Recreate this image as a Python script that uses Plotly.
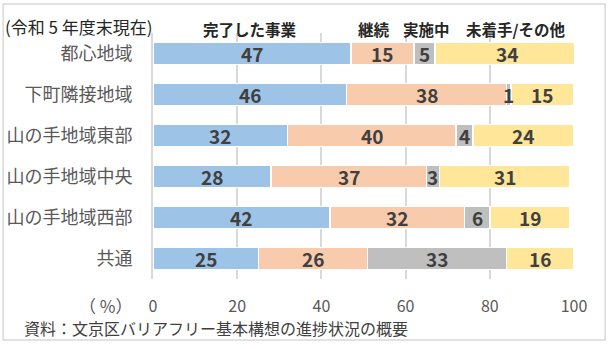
import plotly.graph_objects as go

categories = ["都心地域", "下町隣接地域", "山の手地域東部", "山の手地域中央", "山の手地域西部", "共通"]
series_names = ["完了した事業", "継続", "実施中", "未着手/その他"]
completed = [47, 46, 32, 28, 42, 25]
continuing = [15, 38, 40, 37, 32, 26]
in_progress = [5, 1, 4, 3, 6, 33]
not_started = [34, 15, 24, 31, 19, 16]
colors = ["#9DC3E6", "#F8CBAD", "#BFBFBF", "#FFE699"]
legend_x = [23, 52.5, 65, 86]
x_ticks = [0, 20, 40, 60, 80, 100]

FONT = "Noto Sans CJK JP"
values = [completed, continuing, in_progress, not_started]

fig = go.Figure()
for name, vals, col in zip(series_names, values, colors):
    fig.add_trace(go.Bar(
        y=categories, x=vals, name=name, orientation="h",
        marker=dict(color=col, line=dict(color="white", width=1.5)),
        width=0.54, showlegend=False,
    ))

# data labels centred on each segment, drawn on top of all bars
cum = [0] * len(categories)
for vals in values:
    for i, (cat, v) in enumerate(zip(categories, vals)):
        fig.add_annotation(x=cum[i] + v / 2, y=cat, xref="x", yref="y", text=str(v),
                           showarrow=False,
                           font=dict(family=FONT, size=19, color="#404040", weight="bold"))
        cum[i] += v

for name, lx in zip(series_names, legend_x):
    fig.add_annotation(x=lx, y=1.016, xref="x", yref="paper", text=name,
                       showarrow=False, yanchor="middle",
                       font=dict(family=FONT, size=15.5, color="#262626", weight="bold"))

fig.add_annotation(x=-0.356, y=1.028, xref="paper", yref="paper", text="(令和 5 年度末現在)",
                   showarrow=False, xanchor="left", yanchor="middle",
                   font=dict(family=FONT, size=17, color="#262626"))
fig.add_annotation(x=0, y=0, xref="paper", yref="paper", text="（ %）",
                   showarrow=False, xanchor="right", yanchor="middle", xshift=-19, yshift=-26,
                   font=dict(family=FONT, size=17, color="#595959"))
fig.add_annotation(x=-0.31, y=0, xref="paper", yref="paper", text="資料：文京区バリアフリー基本構想の進捗状況の概要",
                   showarrow=False, xanchor="left", yanchor="middle", yshift=-49,
                   font=dict(family=FONT, size=16, color="#404040"))

fig.add_shape(type="rect", xref="paper", yref="paper", x0=-0.356, x1=1.074, y0=-0.248, y1=1.118,
              line=dict(color="#D9D9D9", width=1.5), fillcolor="rgba(0,0,0,0)", layer="below")

fig.update_layout(
    barmode="stack",
    width=612, height=349,
    margin=dict(l=153, r=38, t=33, b=70, autoexpand=False),
    paper_bgcolor="white", plot_bgcolor="white",
    font=dict(family=FONT),
    xaxis=dict(range=[0, 100], tickvals=x_ticks, showgrid=True, gridcolor="#D9D9D9", gridwidth=2,
               zeroline=False, showline=False, tickfont=dict(family=FONT, size=16, color="#595959"),
               ticks="", ticklabelstandoff=16, automargin=False),
    yaxis=dict(autorange="reversed", showgrid=False, showline=True, linecolor="#D9D9D9", linewidth=2,
               tickfont=dict(family=FONT, size=18, color="#595959"), ticks="", ticklabelstandoff=15,
               automargin=False),
)

fig.write_html("out.html")
